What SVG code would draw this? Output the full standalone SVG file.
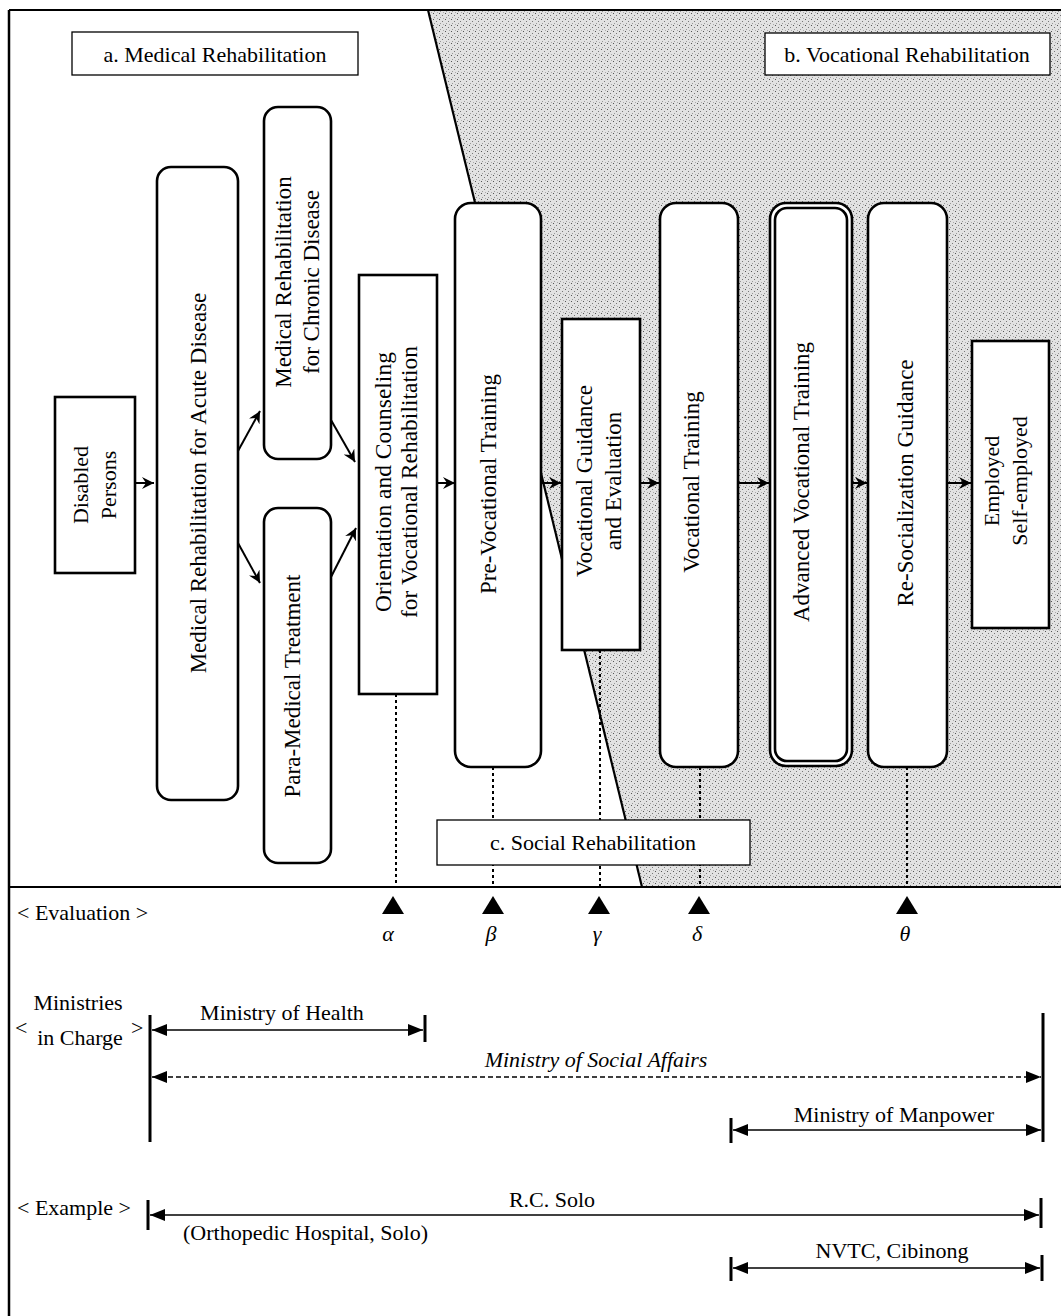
<svg xmlns="http://www.w3.org/2000/svg" width="1061" height="1316" viewBox="0 0 1061 1316">
<defs>
<pattern id="stip" width="6" height="6" patternUnits="userSpaceOnUse">
<rect width="6" height="6" fill="#e2e2e2"/>
<rect x="1" y="1" width="1" height="1" fill="#555"/>
<rect x="4" y="3" width="1" height="1" fill="#777"/>
<rect x="2" y="5" width="1" height="1" fill="#999"/>
<rect x="5" y="0" width="1" height="1" fill="#aaa"/>
</pattern>
<marker id="ah" markerUnits="userSpaceOnUse" markerWidth="14" markerHeight="12" refX="12" refY="6" orient="auto"><path d="M0,0 L12,6 L0,12 L4,6 Z" fill="#000"/></marker>
<marker id="fa" markerUnits="userSpaceOnUse" markerWidth="16" markerHeight="12" refX="15" refY="6" orient="auto-start-reverse"><path d="M0,0 L15,6 L0,12 Z" fill="#000"/></marker>
<style>
text{font-family:"Liberation Serif","Times New Roman",serif;font-size:22px;fill:#000}
.v{font-size:23px}
.m{text-anchor:middle}
.it{font-style:italic}
.box{fill:#fff;stroke:#000;stroke-width:2.6}
.lab{fill:#fff;stroke:#000;stroke-width:1.3}
.flow{stroke:#000;stroke-width:2;fill:none;marker-end:url(#ah)}
.dot{stroke:#000;stroke-width:2;stroke-dasharray:3,3;fill:none}
.rng{stroke:#000;stroke-width:1.3;fill:none;marker-start:url(#fa);marker-end:url(#fa)}
.bar{stroke:#000;stroke-width:3}
.tri{fill:#000}
</style>
</defs>
<rect width="1061" height="1316" fill="#fff"/>
<g id="background">
<polygon points="428,10 1061,10 1061,887 642,887" fill="url(#stip)"/>
<line x1="428" y1="10" x2="642" y2="887" stroke="#000" stroke-width="2.2"/>
<line x1="9" y1="10" x2="1061" y2="10" stroke="#000" stroke-width="2"/>
<line x1="9" y1="10" x2="9" y2="1316" stroke="#000" stroke-width="2.5"/>
<line x1="9" y1="887" x2="1061" y2="887" stroke="#000" stroke-width="1.8"/>
</g>
<g id="connectors">
<line class="flow" x1="135" y1="483" x2="154" y2="483"/>
<line class="flow" x1="238" y1="451" x2="260" y2="411"/>
<line class="flow" x1="238" y1="543" x2="260" y2="583"/>
<line class="flow" x1="331" y1="420" x2="355" y2="462"/>
<line class="flow" x1="331" y1="577" x2="356" y2="528"/>
<line class="flow" x1="437" y1="483" x2="455" y2="483"/>
<line class="flow" x1="541" y1="483" x2="561" y2="483"/>
<line class="flow" x1="640" y1="483" x2="659" y2="483"/>
<line class="flow" x1="738" y1="483" x2="769" y2="483"/>
<line class="flow" x1="852" y1="483" x2="867" y2="483"/>
<line class="flow" x1="947" y1="483" x2="971" y2="483"/>
<line class="dot" x1="396" y1="694" x2="396" y2="887"/>
<line class="dot" x1="493" y1="767" x2="493" y2="887"/>
<line class="dot" x1="600" y1="650" x2="600" y2="887"/>
<line class="dot" x1="700" y1="767" x2="700" y2="887"/>
<line class="dot" x1="907" y1="767" x2="907" y2="887"/>
</g>
<g id="label-a"><rect class="lab" x="72" y="32" width="286" height="43"/><text class="m" x="215" y="62">a. Medical Rehabilitation</text></g>
<g id="label-b"><rect class="lab" x="765" y="33" width="285" height="42"/><text class="m" x="907" y="62">b. Vocational Rehabilitation</text></g>
<g id="label-c"><rect class="lab" x="437" y="820" width="313" height="45"/><text class="m" x="593" y="850">c. Social Rehabilitation</text></g>
<g id="n-disabled"><rect class="box" x="55" y="397" width="80" height="176"/><text class="m" transform="translate(100,485) rotate(-90)"><tspan x="0" y="-12">Disabled</tspan><tspan x="0" y="16">Persons</tspan></text></g>
<g id="n-acute"><rect class="box" x="157" y="167" width="81" height="633" rx="14"/><text class="m v" transform="translate(199,483) rotate(-90)" y="7">Medical Rehabilitation for Acute Disease</text></g>
<g id="n-chronic"><rect class="box" x="264" y="107" width="67" height="352" rx="14"/><text class="m v" transform="translate(298,282) rotate(-90)"><tspan x="0" y="-7">Medical Rehabilitation</tspan><tspan x="0" y="21">for Chronic Disease</tspan></text></g>
<g id="n-para"><rect class="box" x="264" y="508" width="67" height="355" rx="14"/><text class="m v" transform="translate(293,686) rotate(-90)" y="7">Para-Medical Treatment</text></g>
<g id="n-orient"><rect class="box" x="359" y="275" width="78" height="419"/><text class="m v" transform="translate(404,482) rotate(-90)" style="font-size:23.5px"><tspan x="0" y="-13">Orientation and Counseling</tspan><tspan x="0" y="13">for Vocational Rehabilitation</tspan></text></g>
<g id="n-prevoc"><rect class="box" x="455" y="203" width="86" height="564" rx="16"/><text class="m v" transform="translate(489,484) rotate(-90)" y="7">Pre-Vocational Training</text></g>
<g id="n-vge"><rect class="box" x="562" y="319" width="78" height="331"/><text class="m v" transform="translate(600,481) rotate(-90)"><tspan x="0" y="-8">Vocational Guidance</tspan><tspan x="0" y="21">and Evaluation</tspan></text></g>
<g id="n-vt"><rect class="box" x="660" y="203" width="78" height="564" rx="16"/><text class="m v" transform="translate(692,482) rotate(-90)" y="7">Vocational Training</text></g>
<g id="n-avt"><rect class="box" x="770" y="203" width="82" height="563" rx="16"/><rect class="box" x="775" y="208" width="72" height="553" rx="12" stroke-width="2"/><text class="m v" transform="translate(802,482) rotate(-90)" y="7">Advanced Vocational Training</text></g>
<g id="n-rsg"><rect class="box" x="868" y="203" width="79" height="564" rx="16"/><text class="m v" transform="translate(906,483) rotate(-90)" y="7">Re-Socialization Guidance</text></g>
<g id="n-emp"><rect class="box" x="972" y="341" width="77" height="287"/><text class="m" transform="translate(1010,481) rotate(-90)"><tspan x="0" y="-11">Employed</tspan><tspan x="0" y="17">Self-employed</tspan></text></g>
<g id="evaluation">
<text x="17" y="920">&lt; Evaluation &gt;</text>
<polygon class="tri" points="393,896 382,914 404,914"/>
<polygon class="tri" points="493,896 482,914 504,914"/>
<polygon class="tri" points="599,896 588,914 610,914"/>
<polygon class="tri" points="699,896 688,914 710,914"/>
<polygon class="tri" points="907,896 896,914 918,914"/>
<text class="m it" x="388" y="941">α</text>
<text class="m it" x="491" y="941">β</text>
<text class="m it" x="597" y="941">γ</text>
<text class="m it" x="697" y="941">δ</text>
<text class="m it" x="905" y="941">θ</text>
</g>
<g id="ministries">
<text class="m" x="78" y="1010" font-size="21">Ministries</text>
<text class="m" x="80" y="1045" font-size="21">in Charge</text>
<text x="15" y="1035" font-size="25">&lt;</text>
<text x="131" y="1035" font-size="25">&gt;</text>
<line class="bar" x1="150" y1="1015" x2="150" y2="1142"/>
<line class="bar" x1="425" y1="1015" x2="425" y2="1042"/>
<line class="bar" x1="1043" y1="1013" x2="1043" y2="1142"/>
<line class="rng" x1="152" y1="1030" x2="423" y2="1030"/>
<text class="m" x="282" y="1020" font-size="21">Ministry of Health</text>
<line class="rng" x1="152" y1="1077" x2="1041" y2="1077" stroke-dasharray="5,3"/>
<text class="m it" x="596" y="1067" font-size="21">Ministry of Social Affairs</text>
<line class="bar" x1="731" y1="1118" x2="731" y2="1143"/>
<line class="rng" x1="733" y1="1130" x2="1041" y2="1130"/>
<text class="m" x="894" y="1122" font-size="21">Ministry of Manpower</text>
</g>
<g id="examples">
<text x="17" y="1215" font-size="21">&lt; Example &gt;</text>
<line class="bar" x1="148" y1="1200" x2="148" y2="1230"/>
<line class="bar" x1="1041" y1="1198" x2="1041" y2="1228"/>
<line class="rng" x1="150" y1="1215" x2="1039" y2="1215"/>
<text class="m" x="552" y="1207" font-size="21">R.C. Solo</text>
<text x="183" y="1240" font-size="21">(Orthopedic Hospital, Solo)</text>
<line class="bar" x1="731" y1="1257" x2="731" y2="1281"/>
<line class="bar" x1="1042" y1="1255" x2="1042" y2="1281"/>
<line class="rng" x1="733" y1="1268" x2="1040" y2="1268"/>
<text class="m" x="892" y="1258" font-size="21">NVTC, Cibinong</text>
</g>
</svg>
